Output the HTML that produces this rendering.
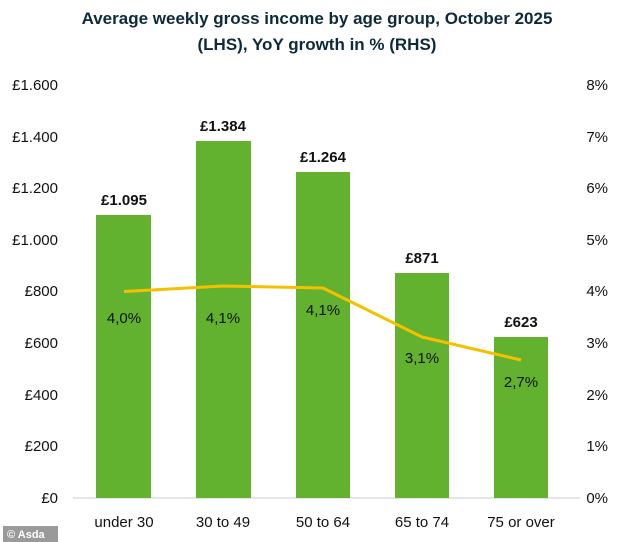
<!DOCTYPE html>
<html><head><meta charset="utf-8"><style>body{margin:0;background:#fff}svg{display:block}</style></head><body>
<svg width="634" height="542" xmlns="http://www.w3.org/2000/svg" font-family="Liberation Sans, sans-serif">
<rect width="634" height="542" fill="#fff"/>
<text x="317" y="24" text-anchor="middle" font-size="17" font-weight="bold" fill="#0d2a3a">Average weekly gross income by age group, October 2025</text>
<text x="317" y="50" text-anchor="middle" font-size="17" font-weight="bold" fill="#0d2a3a">(LHS), YoY growth in % (RHS)</text>
<g font-size="15" fill="#111">
<g text-anchor="end">
<text x="58" y="503">£0</text><text x="58" y="451">£200</text><text x="58" y="400">£400</text><text x="58" y="348">£600</text><text x="58" y="296">£800</text><text x="58" y="245">£1.000</text><text x="58" y="193">£1.200</text><text x="58" y="142">£1.400</text><text x="58" y="90">£1.600</text>
</g>
<g text-anchor="end">
<text x="608" y="503">0%</text><text x="608" y="451">1%</text><text x="608" y="400">2%</text><text x="608" y="348">3%</text><text x="608" y="296">4%</text><text x="608" y="245">5%</text><text x="608" y="193">6%</text><text x="608" y="142">7%</text><text x="608" y="90">8%</text>
</g>
</g>
<line x1="73" y1="498" x2="580" y2="498" stroke="#d0d6da" stroke-width="1.2"/>
<g fill="#63b22f">
<rect x="96" y="215" width="55" height="283"/>
<rect x="196" y="141" width="55" height="357"/>
<rect x="296" y="172" width="54" height="326"/>
<rect x="395" y="273" width="54" height="225"/>
<rect x="494" y="337" width="54" height="161"/>
</g>
<g font-size="15" font-weight="bold" fill="#111" text-anchor="middle">
<text x="124" y="205">£1.095</text><text x="223" y="131">£1.384</text><text x="323" y="162">£1.264</text><text x="422" y="263">£871</text><text x="521" y="327">£623</text>
</g>
<polyline points="124,291.5 223,286 323,288 422,337 521,360" fill="none" stroke="#f5c000" stroke-width="3" stroke-linejoin="round"/>
<g font-size="15" fill="#111" text-anchor="middle">
<text x="124" y="323">4,0%</text><text x="223" y="323">4,1%</text><text x="323" y="315">4,1%</text><text x="422" y="363">3,1%</text><text x="521" y="387">2,7%</text>
</g>
<g font-size="15" fill="#111" text-anchor="middle">
<text x="124" y="527">under 30</text><text x="223" y="527">30 to 49</text><text x="323" y="527">50 to 64</text><text x="422" y="527">65 to 74</text><text x="521" y="527">75 or over</text>
</g>
<rect x="3" y="526" width="55" height="16" fill="#9a9a9a"/>
<text x="7" y="538" font-size="11" font-weight="bold" fill="#fff">© Asda</text>
</svg>
</body></html>
